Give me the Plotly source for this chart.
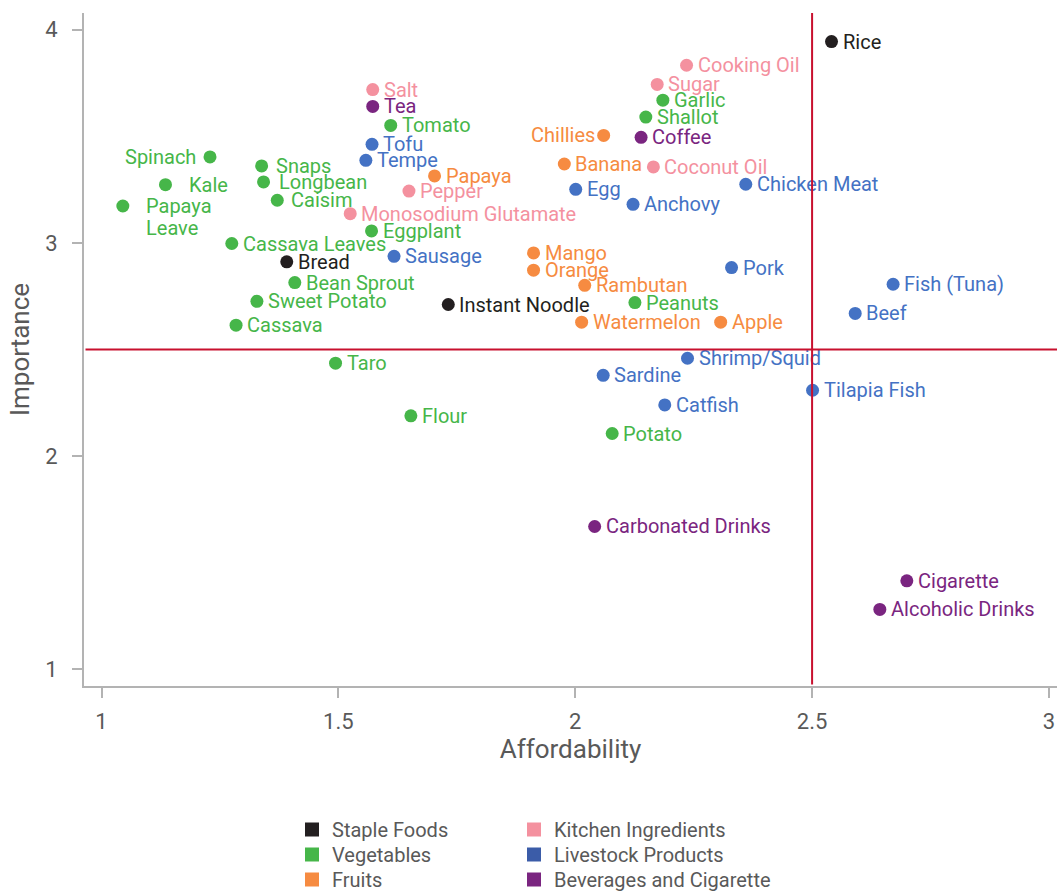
import plotly.graph_objects as go

# ---------------- data ----------------
categories = ["Staple Foods", "Vegetables", "Fruits",
              "Kitchen Ingredients", "Livestock Products", "Beverages and Cigarette"]

staple_names = ["Rice", "Bread", "Instant Noodle"]
staple_x = [2.541, 1.391, 1.732]
staple_y = [3.944, 2.911, 2.711]

veg_names = ["Spinach", "Kale", "Papaya Leave", "Snaps", "Longbean", "Caisim", "Tomato",
             "Eggplant", "Cassava Leaves", "Bean Sprout", "Sweet Potato", "Cassava", "Taro",
             "Flour", "Garlic", "Shallot", "Peanuts", "Potato"]
veg_x = [1.229, 1.135, 1.045, 1.338, 1.342, 1.371, 1.6105,
         1.570, 1.275, 1.408, 1.328, 1.284, 1.494,
         1.653, 2.185, 2.149, 2.126, 2.078]
veg_y = [3.403, 3.273, 3.173, 3.361, 3.286, 3.200, 3.551,
         3.056, 2.997, 2.814, 2.726, 2.614, 2.436,
         2.189, 3.669, 3.590, 2.720, 2.106]

fruit_names = ["Papaya", "Chillies", "Banana", "Mango", "Orange", "Rambutan", "Watermelon", "Apple"]
fruit_x = [1.703, 2.060, 1.977, 1.912, 1.912, 2.020, 2.0135, 2.307]
fruit_y = [3.314, 3.504, 3.370, 2.953, 2.872, 2.801, 2.628, 2.628]

kitchen_names = ["Salt", "Pepper", "Monosodium Glutamate", "Cooking Oil", "Sugar", "Coconut Oil"]
kitchen_x = [1.5725, 1.649, 1.525, 2.235, 2.173, 2.165]
kitchen_y = [3.719, 3.243, 3.137, 3.833, 3.743, 3.356]

livestock_names = ["Tofu", "Tempe", "Sausage", "Egg", "Anchovy", "Chicken Meat", "Pork",
                   "Fish (Tuna)", "Beef", "Shrimp/Squid", "Sardine", "Catfish", "Tilapia Fish"]
livestock_x = [1.571, 1.558, 1.6175, 2.001, 2.122, 2.360, 2.330,
               2.671, 2.591, 2.237, 2.059, 2.189, 2.501]
livestock_y = [3.462, 3.387, 2.937, 3.251, 3.181, 3.275, 2.884,
               2.806, 2.669, 2.459, 2.379, 2.240, 2.309]

bev_names = ["Tea", "Coffee", "Carbonated Drinks", "Cigarette", "Alcoholic Drinks"]
bev_x = [1.5725, 2.139, 2.041, 2.700, 2.643]
bev_y = [3.640, 3.495, 1.670, 1.415, 1.281]

x_ticks = [1, 1.5, 2, 2.5, 3]
x_tick_labels = ["1", "1.5", "2", "2.5", "3"]
y_ticks = [1, 2, 3, 4]
y_tick_labels = ["1", "2", "3", "4"]
threshold_x = 2.5
threshold_y = 2.5

# ---------------- styles ----------------
X_RANGE = [0.963, 3.017]
Y_RANGE = [0.922, 4.078]
point_colors = ["#231f20", "#46b649", "#f68b41", "#f4919f", "#4472c4", "#7a2580"]
legend_colors = ["#231f20", "#46b649", "#f68b41", "#f4919f", "#3b5ca8", "#7a2580"]
FONT = "Roboto"
LABEL_SIZE = 20
GRAY = "#595959"
AXIS_GRAY = "#b3b3b3"
RED = "#c8102e"
W, H = 1059, 892
M_L, M_R, M_T, M_B = 84, 2, 13, 206
PLOT_W, PLOT_H = W - M_L - M_R, H - M_T - M_B

# label placement tweaks (pixels)
label_left = {"Spinach": -12, "Chillies": -7}
label_shift = {"Kale": 22, "Papaya Leave": 21, "Snaps": 12, "Longbean": 13, "Caisim": 12}
DEFAULT_SHIFT = 9

# legend grid (figure pixels): column left edges and row tops
legend_cols = [292, 514]
legend_row_tops = [810, 835, 860]

groups = [
    (staple_names, staple_x, staple_y),
    (veg_names, veg_x, veg_y),
    (fruit_names, fruit_x, fruit_y),
    (kitchen_names, kitchen_x, kitchen_y),
    (livestock_names, livestock_x, livestock_y),
    (bev_names, bev_x, bev_y),
]

fig = go.Figure()
annotations = []
for i, (names, xs, ys) in enumerate(groups):
    fig.add_trace(go.Scatter(
        x=xs, y=ys, mode="markers", name=categories[i], showlegend=False,
        marker=dict(size=13, color=point_colors[i]), text=names,
        hovertemplate="%{text}<br>%{x}, %{y}<extra></extra>"))
    lab_font = dict(family=FONT, size=LABEL_SIZE, color=point_colors[i])
    for n, xv, yv in zip(names, xs, ys):
        if n in label_left:
            annotations.append(dict(x=xv, y=yv, text=n, showarrow=False, xanchor="right",
                                    yanchor="middle", xshift=label_left[n], font=lab_font))
        elif n == "Papaya Leave":
            first, second = n.split(" ")
            annotations.append(dict(x=xv, y=yv, text=first, showarrow=False, xanchor="left",
                                    yanchor="middle", xshift=label_shift[n], font=lab_font))
            annotations.append(dict(x=xv, y=yv, text=second, showarrow=False, xanchor="left",
                                    yanchor="middle", xshift=label_shift[n], yshift=-22,
                                    font=lab_font))
        else:
            annotations.append(dict(x=xv, y=yv, text=n, showarrow=False, xanchor="left",
                                    yanchor="middle", xshift=label_shift.get(n, DEFAULT_SHIFT),
                                    font=lab_font))

# red threshold lines drawn as arrow-less annotations so they sit above the labels
annotations.append(dict(x=threshold_x, y=Y_RANGE[1], ax=threshold_x, ay=Y_RANGE[0],
                        xref="x", yref="y", axref="x", ayref="y", text="",
                        showarrow=True, arrowhead=0, arrowwidth=2, arrowcolor=RED,
                        standoff=0, startstandoff=0))
annotations.append(dict(x=X_RANGE[1], y=threshold_y, ax=X_RANGE[0], ay=threshold_y,
                        xref="x", yref="y", axref="x", ayref="y", text="",
                        showarrow=True, arrowhead=0, arrowwidth=2, arrowcolor=RED,
                        standoff=0, startstandoff=0))

# legend-only square entries, one legend per cell of a 2x3 grid
legend_layout = {}
for i, c in enumerate(categories):
    key = "legend" if i == 0 else f"legend{i + 1}"
    fig.add_trace(go.Scatter(
        x=[None], y=[None], mode="markers", name=c,
        marker=dict(symbol="square", size=14, color=legend_colors[i]),
        legend=key))
    col, row = divmod(i, 3)
    legend_layout[key] = dict(
        font=dict(family=FONT, size=20, color=GRAY), bgcolor="rgba(0,0,0,0)",
        orientation="v", xref="paper", yref="paper",
        x=(legend_cols[col] - M_L) / PLOT_W, y=(H - M_B - legend_row_tops[row]) / PLOT_H,
        xanchor="left", yanchor="top", itemclick=False)

fig.update_layout(
    width=W, height=H,
    margin=dict(l=M_L, r=M_R, t=M_T, b=M_B, autoexpand=False),
    paper_bgcolor="white", plot_bgcolor="white",
    font=dict(family=FONT, color=GRAY),
    annotations=annotations,
    xaxis=dict(range=X_RANGE, tickvals=x_ticks, ticktext=x_tick_labels, automargin=False,
               showgrid=False, zeroline=False, showline=True, linecolor=AXIS_GRAY, linewidth=2,
               ticks="outside", ticklen=10, tickwidth=2, tickcolor=AXIS_GRAY,
               ticklabelstandoff=5,
               tickfont=dict(family=FONT, size=22, color=GRAY),
               title=dict(text="Affordability", font=dict(family=FONT, size=26, color=GRAY), standoff=0)),
    yaxis=dict(range=Y_RANGE, tickvals=y_ticks, ticktext=y_tick_labels, automargin=False,
               showgrid=False, zeroline=False, showline=True, linecolor=AXIS_GRAY, linewidth=2,
               ticks="outside", ticklen=10, tickwidth=2, tickcolor=AXIS_GRAY,
               ticklabelstandoff=10,
               tickfont=dict(family=FONT, size=22, color=GRAY),
               title=dict(text="Importance", font=dict(family=FONT, size=26, color=GRAY), standoff=8)),
    **legend_layout,
)

fig.write_html("out.html", config={"displayModeBar": False},
               post_script="document.body.style.margin='0';")
